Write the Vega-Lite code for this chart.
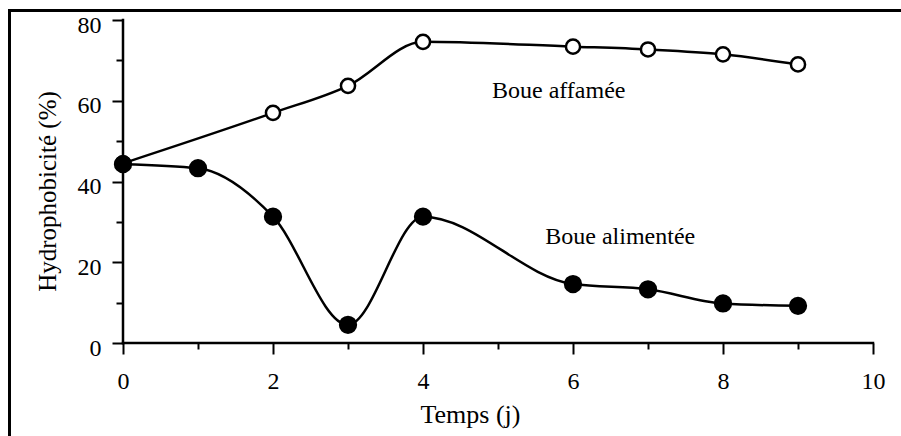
{
  "$schema": "https://vega.github.io/schema/vega-lite/v6.json",
  "width": 892,
  "height": 426,
  "autosize": {"type": "none"},
  "padding": {"left": 9, "top": 10, "right": 0, "bottom": 0},
  "background": "white",
  "config": {
    "view": {"stroke": null},
    "axis": {
      "labelFont": "Liberation Serif",
      "titleFont": "Liberation Serif",
      "labelColor": "black",
      "titleColor": "black",
      "tickColor": "black",
      "domainColor": "black",
      "grid": false,
      "titleFontWeight": "normal",
      "labelFlush": false,
      "labelOverlap": false,
      "labelBound": false
    }
  },
  "datasets": {
    "mesures": [
      {"serie": "Boue affamée", "temps": 0, "hydro": 44.5},
      {"serie": "Boue affamée", "temps": 2, "hydro": 57.0},
      {"serie": "Boue affamée", "temps": 3, "hydro": 63.7},
      {"serie": "Boue affamée", "temps": 4, "hydro": 74.6},
      {"serie": "Boue affamée", "temps": 6, "hydro": 73.4},
      {"serie": "Boue affamée", "temps": 7, "hydro": 72.7},
      {"serie": "Boue affamée", "temps": 8, "hydro": 71.5},
      {"serie": "Boue affamée", "temps": 9, "hydro": 69.0},
      {"serie": "Boue alimentée", "temps": 0, "hydro": 44.3},
      {"serie": "Boue alimentée", "temps": 1, "hydro": 43.3},
      {"serie": "Boue alimentée", "temps": 2, "hydro": 31.3},
      {"serie": "Boue alimentée", "temps": 3, "hydro": 4.5},
      {"serie": "Boue alimentée", "temps": 4, "hydro": 31.3},
      {"serie": "Boue alimentée", "temps": 6, "hydro": 14.6},
      {"serie": "Boue alimentée", "temps": 7, "hydro": 13.3},
      {"serie": "Boue alimentée", "temps": 8, "hydro": 9.8},
      {"serie": "Boue alimentée", "temps": 9, "hydro": 9.2}
    ],
    "axes": [
      {"x": 0, "x2": 10, "y": 0, "y2": 0},
      {"x": 0, "x2": 0, "y": 0, "y2": 80}
    ],
    "etiquettes": [
      {"label": "Boue affamée", "temps": 4.92, "hydro": 60.7},
      {"label": "Boue alimentée", "temps": 5.63, "hydro": 24.5}
    ]
  },
  "layer": [
    {
      "data": {"name": "axes"},
      "mark": {"type": "rule", "strokeWidth": 2.5, "strokeCap": "square", "color": "black"},
      "encoding": {
        "x": {
          "field": "x", "type": "quantitative",
          "scale": {"domain": [-1.52, 10.3733], "nice": false, "zero": false},
          "axis": {"orient": "top", "offset": 0, "domain": true, "domainWidth": 3, "domainCap": "square", "ticks": false, "labels": false, "values": [], "title": null}
        },
        "x2": {"field": "x2"},
        "y": {
          "field": "y", "type": "quantitative",
          "scale": {"domain": [-23.034, 82.477], "nice": false, "zero": false},
          "axis": {"orient": "left", "offset": 0, "domain": true, "domainWidth": 3, "domainCap": "square", "ticks": false, "labels": false, "values": [], "title": null}
        },
        "y2": {"field": "y2"}
      }
    },
    {
      "data": {"name": "mesures"},
      "mark": {"type": "line", "interpolate": "monotone", "strokeWidth": 2.5, "color": "black"},
      "encoding": {
        "x": {
          "field": "temps", "type": "quantitative",
          "scale": {"domain": [-1.52, 10.3733], "nice": false, "zero": false},
          "axis": {
            "orient": "bottom", "offset": -93, "values": [0, 2, 4, 6, 8, 10], "domain": false,
            "tickSize": 11, "tickWidth": 2, "labelFontSize": 24, "labelPadding": 15,
            "title": "Temps (j)", "titleFontSize": 26, "titleX": 461, "titleY": 79,
            "titleBaseline": "alphabetic", "titleAlign": "center"
          }
        },
        "y": {
          "field": "hydro", "type": "quantitative",
          "scale": {"domain": [-23.034, 82.477], "nice": false, "zero": false},
          "axis": {
            "orient": "left", "offset": -114, "values": [0, 20, 40, 60, 80], "domain": false,
            "tickSize": 11, "tickWidth": 2, "labelFontSize": 24, "labelPadding": 11, "labelOffset": 5,
            "title": "Hydrophobicité (%)", "titleFontSize": 25, "titleX": -76, "titleY": 181,
            "titleBaseline": "middle", "titleAlign": "center", "titleAngle": -90
          }
        },
        "detail": {"field": "serie"}
      }
    },
    {
      "data": {"name": "mesures"},
      "mark": {"type": "point", "shape": "circle", "filled": true, "strokeWidth": 2.5, "stroke": "black", "opacity": 1},
      "encoding": {
        "x": {
          "field": "temps", "type": "quantitative",
          "scale": {"domain": [-1.52, 10.3733], "nice": false, "zero": false},
          "axis": {"orient": "bottom", "offset": -93, "values": [1, 3, 5, 7, 9], "domain": false, "tickSize": 6, "tickWidth": 2, "labels": false, "title": null}
        },
        "y": {
          "field": "hydro", "type": "quantitative",
          "scale": {"domain": [-23.034, 82.477], "nice": false, "zero": false},
          "axis": {"orient": "left", "offset": -114, "values": [10, 30, 50, 70], "domain": false, "tickSize": 7, "tickWidth": 2, "labels": false, "title": null}
        },
        "fill": {
          "field": "serie", "type": "nominal",
          "scale": {"domain": ["Boue affamée", "Boue alimentée"], "range": ["white", "black"]},
          "legend": null
        },
        "size": {
          "field": "serie", "type": "nominal",
          "scale": {"domain": ["Boue affamée", "Boue alimentée"], "range": [200, 250]},
          "legend": null
        },
        "order": {"field": "serie", "type": "nominal"}
      }
    },
    {
      "data": {"name": "etiquettes"},
      "mark": {"type": "text", "font": "Liberation Serif", "fontSize": 24, "align": "left", "baseline": "alphabetic", "color": "black"},
      "encoding": {
        "x": {"field": "temps", "type": "quantitative", "scale": {"domain": [-1.52, 10.3733], "nice": false, "zero": false}, "axis": null},
        "y": {"field": "hydro", "type": "quantitative", "scale": {"domain": [-23.034, 82.477], "nice": false, "zero": false}, "axis": null},
        "text": {"field": "label"}
      }
    }
  ],
  "resolve": {"axis": {"x": "independent", "y": "independent"}}
}
